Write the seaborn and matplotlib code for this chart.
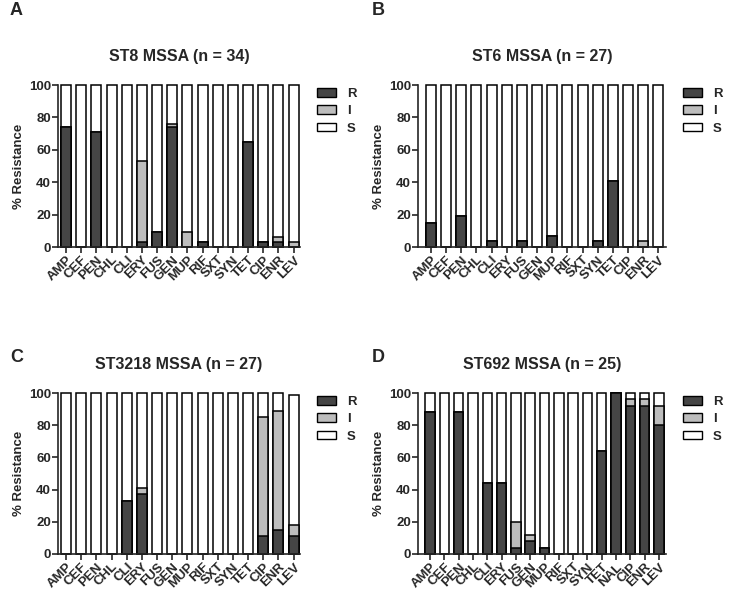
import numpy as np
import pandas as pd
import matplotlib
matplotlib.use("Agg")
import matplotlib.pyplot as plt
import seaborn as sns
from matplotlib.patches import Patch

sns.set_style("ticks")
plt.rcParams['font.family'] = ['Liberation Sans', 'DejaVu Sans']
plt.rcParams['font.weight'] = 'bold'

cats16 = ["AMP", "CEF", "PEN", "CHL", "CLI", "ERY", "FUS", "GEN", "MUP", "RIF",
          "SXT", "SYN", "TET", "CIP", "ENR", "LEV"]
cats17 = ["AMP", "CEF", "PEN", "CHL", "CLI", "ERY", "FUS", "GEN", "MUP", "RIF",
          "SXT", "SYN", "TET", "NAL", "CIP", "ENR", "LEV"]

# Panel A: ST8 MSSA (n = 34)
A_R = [74, 0, 71, 0, 0, 3, 9, 74, 0, 3, 0, 0, 65, 3, 3, 0]
A_I = [0, 0, 0, 0, 0, 50, 0, 2, 9, 0, 0, 0, 0, 0, 3, 3]
A_S = [26, 100, 29, 100, 100, 47, 91, 24, 91, 97, 100, 100, 35, 97, 94, 97]

# Panel B: ST6 MSSA (n = 27)
B_R = [15, 0, 19, 0, 4, 0, 4, 0, 7, 0, 0, 4, 41, 0, 0, 0]
B_I = [0, 0, 0, 0, 0, 0, 0, 0, 0, 0, 0, 0, 0, 0, 4, 0]
B_S = [85, 100, 81, 100, 96, 100, 96, 100, 93, 100, 100, 96, 59, 100, 96, 100]

# Panel C: ST3218 MSSA (n = 27)
C_R = [0, 0, 0, 0, 33, 37, 0, 0, 0, 0, 0, 0, 0, 11, 15, 11]
C_I = [0, 0, 0, 0, 0, 4, 0, 0, 0, 0, 0, 0, 0, 74, 74, 7]
C_S = [100, 100, 100, 100, 67, 59, 100, 100, 100, 100, 100, 100, 100, 15, 11, 81]

# Panel D: ST692 MSSA (n = 25)
D_R = [88, 0, 88, 0, 44, 44, 4, 8, 4, 0, 0, 0, 64, 100, 92, 92, 80]
D_I = [0, 0, 0, 0, 0, 0, 16, 4, 0, 0, 0, 0, 0, 0, 4, 4, 12]
D_S = [12, 100, 12, 100, 56, 56, 80, 88, 96, 100, 100, 100, 36, 0, 4, 4, 8]

titles = ["ST8 MSSA (n = 34)", "ST6 MSSA (n = 27)",
          "ST3218 MSSA (n = 27)", "ST692 MSSA (n = 25)"]
letters = ["A", "B", "C", "D"]
legend_labels = ["R", "I", "S"]
col_R, col_I, col_S = "#454545", "#bdbdbd", "#ffffff"

W, H = 729, 599
fig = plt.figure(figsize=(W / 100, H / 100), dpi=100)

# axes positions in pixel terms: left, right, top, bottom
boxes = [(58, 300, 85, 247), (418, 666, 85, 247),
         (58, 300, 393, 554), (418, 666, 393, 554)]
xlims = [(-0.53, 15.42), (-0.85, 15.5), (-0.53, 15.42), (-0.85, 16.5)]
panels = [(cats16, A_R, A_I, A_S), (cats16, B_R, B_I, B_S),
          (cats16, C_R, C_I, C_S), (cats17, D_R, D_I, D_S)]
letter_pos = [(10, 15), (372, 15), (10, 362), (372, 362)]

for k, ((l, r, t, b), (cats, R, I, S)) in enumerate(zip(boxes, panels)):
    ax = fig.add_axes([l / W, 1 - b / H, (r - l) / W, (b - t) / H])
    df = pd.DataFrame({"cat": cats, "R": R, "I": I, "S": S})
    df["RI"] = df["R"] + df["I"]
    df["tot"] = df["RI"] + df["S"]
    common = dict(x="cat", order=cats, ax=ax, width=0.66, edgecolor="black",
                  linewidth=1.1, clip_on=False)
    sns.barplot(data=df, y="tot", color=col_S, saturation=1, **common)
    sns.barplot(data=df, y="RI", color=col_I, saturation=1, **common)
    sns.barplot(data=df, y="R", color=col_R, saturation=1, **common)
    ax.set_ylim(0, 100)
    ax.set_xlim(*xlims[k])
    ax.set_yticks([0, 20, 40, 60, 80, 100])
    ax.set_xlabel("")
    ax.set_ylabel("% Resistance", fontsize=9.5, fontweight="bold", labelpad=3)
    ax.set_title(titles[k], fontsize=11.5, fontweight="bold", pad=17)
    sns.despine(ax=ax)
    for sp in ["left", "bottom"]:
        ax.spines[sp].set_linewidth(1.2)
    ax.tick_params(axis="both", width=1.2, length=4, labelsize=9.5, pad=1)
    plt.setp(ax.get_xticklabels(), rotation=45, ha="right", rotation_mode="anchor",
             fontweight="bold", fontsize=9.5)
    plt.setp(ax.get_yticklabels(), fontweight="bold")
    handles = [Patch(facecolor=c, edgecolor="black", linewidth=1.0)
               for c in (col_R, col_I, col_S)]
    ax.legend(handles, legend_labels, loc="upper left",
              bbox_to_anchor=(1.0 + 17 / (r - l), 1.0 - 3 / (b - t)),
              frameon=False, borderaxespad=0, borderpad=0, handlelength=1.45,
              handleheight=0.6, labelspacing=0.4, handletextpad=0.8,
              prop={"weight": "bold", "size": 9.5})
    fig.text(letter_pos[k][0] / W, 1 - letter_pos[k][1] / H, letters[k],
             fontsize=13, fontweight="bold", va="baseline")

fig.savefig("out.png", dpi=100)
